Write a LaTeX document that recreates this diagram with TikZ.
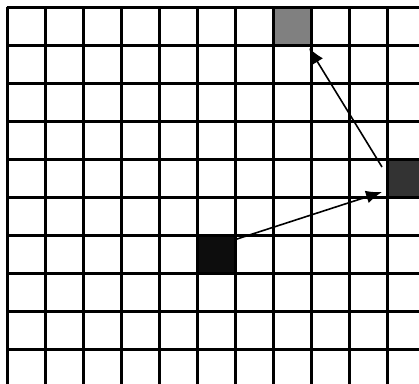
\documentclass[tikz,border=0pt]{standalone}
\usetikzlibrary{arrows.meta}
\begin{document}
\begin{tikzpicture}[x=1pt,y=-1pt,
  gridline/.style={line width=2.3pt,black},
  cell/.style={minimum size=38pt,inner sep=0pt,outer sep=0pt,draw=none},
  move/.style={line width=1.6pt,-{Latex[length=16pt,width=13pt]}}]
\useasboundingbox (0,0) rectangle (419,383);
\fill[white] (0,0) rectangle (419,383);
% coloured cells
\node[cell,fill={rgb,255:red,128;green,128;blue,128}] (g) at (292.5,26.5) {};
\node[cell,fill={rgb,255:red,51;green,51;blue,51}] (d) at (406.5,178.5) {};
\node[cell,fill={rgb,255:red,13;green,13;blue,13}] (b) at (216.5,254.5) {};
% grid
\begin{scope}
\clip (0,0) rectangle (419,383);
\foreach \k in {0,...,10} \draw[gridline] (7.5+38*\k,6.5) -- (7.5+38*\k,384);
\foreach \k in {0,...,9} \draw[gridline] (6.5,7.5+38*\k) -- (420,7.5+38*\k);
\end{scope}
% arrows
\coordinate (s1) at (237,239);
\coordinate (t1) at (382,192);
\coordinate (s2) at (382,167);
\coordinate (t2) at (309,48);
\draw[move] (s1) -- (t1);
\draw[move] (s2) -- (t2);
\end{tikzpicture}
\end{document}
